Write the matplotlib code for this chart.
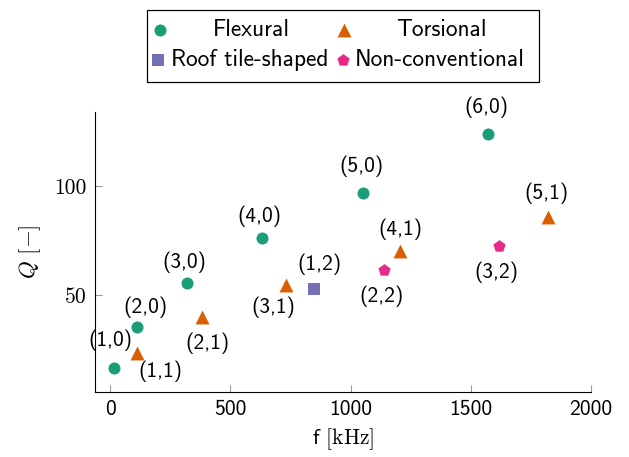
import matplotlib
matplotlib.use("Agg")
import matplotlib.pyplot as plt
from matplotlib.patches import Rectangle

plt.rcParams['mathtext.fontset'] = 'cm'
plt.rcParams['axes.unicode_minus'] = False

flex_f = [17, 112, 320, 632, 1052, 1572]
flex_q = [16.5, 35.3, 55.5, 76, 97, 124]
flex_lbl = ['(1,0)', '(2,0)', '(3,0)', '(4,0)', '(5,0)', '(6,0)']

tors_f = [112, 382, 732, 1206, 1821]
tors_q = [23.5, 40, 54.5, 70, 86]
tors_lbl = ['(1,1)', '(2,1)', '(3,1)', '(4,1)', '(5,1)']

roof_f = [848]
roof_q = [52.8]
roof_lbl = ['(1,2)']

nc_f = [1139, 1617]
nc_q = [61.5, 72.5]
nc_lbl = ['(2,2)', '(3,2)']

series_names = ['Flexural', 'Torsional', 'Roof tile-shaped', 'Non-conventional']
colors = ['#1b9e77', '#d95f02', '#7570b3', '#e7298a']
markers = ['o', '^', 's', 'p']
sizes = [75, 100, 65, 85]

xticks = [0, 500, 1000, 1500, 2000]
yticks = [50, 100]

SANS = 'cmss10'
SERIF = 'cmr10'
FS = 15.5
LFS = 16.8

W, H = 629, 457
fig = plt.figure(figsize=(W / 100, H / 100), dpi=100)
ax = fig.add_axes([95 / W, 1 - 392 / H, (591 - 95) / W, (392 - 112) / H])

data = [(flex_f, flex_q, flex_lbl), (tors_f, tors_q, tors_lbl),
        (roof_f, roof_q, roof_lbl), (nc_f, nc_q, nc_lbl)]
for (fs, qs, ls), c, m, s in zip(data, colors, markers, sizes):
    ax.scatter(fs, qs, marker=m, s=s, color=c, zorder=3, linewidths=0)

# label offsets (points)
offs = {
    '(1,0)': (-3, 20), '(2,0)': (6, 14), '(3,0)': (-2, 15), '(4,0)': (-2, 16),
    '(5,0)': (-1, 19), '(6,0)': (-1, 19),
    '(1,1)': (17, -13), '(2,1)': (4, -19), '(3,1)': (-9, -16), '(4,1)': (0, 16), '(5,1)': (-1, 17),
    '(1,2)': (4, 18),
    '(2,2)': (-2, -19), '(3,2)': (-2, -19),
}
for fs, qs, ls in data:
    for f, q, l in zip(fs, qs, ls):
        ax.annotate(l, (f, q), xytext=offs[l], textcoords='offset points',
                    ha='center', va='center', fontsize=FS, family=SANS)

ax.set_xlim(-63, 2000)
ax.set_ylim(5.5, 134)
ax.set_xticks(xticks)
ax.set_yticks(yticks)
for s in ['top', 'right']:
    ax.spines[s].set_visible(False)
ax.tick_params(direction='in', length=5, color='#999999', width=0.8, labelsize=FS, pad=6)
for t in ax.get_xticklabels():
    t.set_family(SANS)
for t in ax.get_yticklabels():
    t.set_family(SERIF)

ax.set_xlabel(r'$\mathsf{f}$ [kHz]', fontsize=FS, family=SERIF, labelpad=5)
ax.set_ylabel(r'$Q\ [\mathrm{-}]$', fontsize=FS + 1, labelpad=8)

# legend, drawn in figure pixel space
lax = fig.add_axes([0, 0, 1, 1])
lax.set_xlim(0, W)
lax.set_ylim(H, 0)
lax.axis('off')
lax.add_patch(Rectangle((146.5, 10), 392, 72, fill=False, edgecolor='black', linewidth=0.9))
rows = [30, 60]
mark_x = [160, 344, 158, 343]
entries = [
    (0, 0, 251, 'center'),
    (1, 0, 441, 'center'),
    (2, 1, 171, 'left'),
    (3, 1, 355, 'left'),
]
for (i, r, tx, ha) in entries:
    lax.scatter([mark_x[i]], [rows[r]], marker=markers[i], s=sizes[i], color=colors[i], linewidths=0)
    lax.text(tx, rows[r], series_names[i], ha=ha, va='center', fontsize=LFS, family=SANS)

fig.savefig('out.png', dpi=100)
